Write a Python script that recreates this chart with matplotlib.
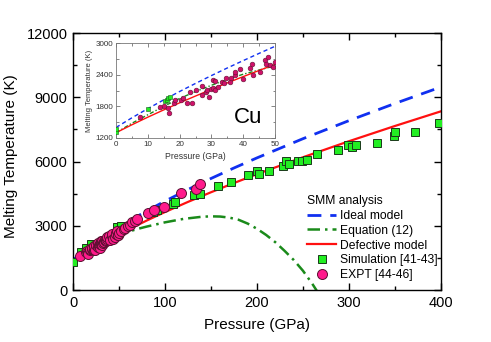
import matplotlib
matplotlib.use("Agg")
import matplotlib.pyplot as plt
from matplotlib.ticker import MultipleLocator

plt.rcParams['font.family'] = ['Liberation Sans', 'DejaVu Sans']

# ---- model curves ----
P_model = [0, 5, 10, 15, 20, 25, 30, 35, 40, 45, 50, 60, 80, 100, 125, 150, 175, 200, 250, 300, 350, 400]
T_ideal = [1400, 1583, 1757, 1923, 2082, 2235, 2384, 2528, 2668, 2805, 2939, 3198, 3688, 4149, 4692, 5207, 5698, 6169, 7065, 7908, 8710, 9478]
T_defect = [1300, 1451, 1595, 1733, 1867, 1996, 2122, 2245, 2364, 2481, 2596, 2818, 3241, 3641, 4114, 4564, 4995, 5410, 6199, 6947, 7659, 8343]

P_eq12 = [0, 5, 10, 15, 20, 25, 30, 35, 40, 45, 50, 60, 70, 80, 100, 120, 140, 150, 160, 170, 180, 190, 200, 210, 220, 230, 240, 250, 260, 266]
T_eq12 = [1300, 1480, 1640, 1800, 1950, 2080, 2200, 2310, 2410, 2490, 2570, 2720, 2850, 2960, 3160, 3320, 3420, 3440, 3430, 3380, 3280, 3100, 2860, 2570, 2230, 1830, 1400, 900, 300, -100]

# ---- simulation [41-43] ----
P_sim = [0, 9, 14, 20, 48, 52, 87, 91, 109, 111, 132, 138, 158, 172, 190, 200, 202, 213, 228, 232, 235, 245, 249, 254, 265, 288, 299, 303, 308, 330, 349, 350, 372, 398]
T_sim = [1310, 1760, 1980, 2150, 2960, 3000, 3650, 3720, 4030, 4110, 4430, 4490, 4840, 5030, 5390, 5550, 5440, 5580, 5780, 6015, 5890, 6010, 6020, 6050, 6370, 6560, 6760, 6690, 6760, 6880, 7190, 7370, 7390, 7810]
P_sim_inset = [0, 0, 10, 15.4, 16, 16.5, 17]
T_sim_inset = [1310, 1380, 1750, 1900, 1925, 1955, 1970]

# ---- experiment [44-46] ----
P_exp = [7.5, 13.8, 15.1, 16.4, 16.8, 18.2, 18.6, 20.4, 21, 22.4, 23.3, 23.8, 25, 27, 27, 28.3, 28.5,
         29.3, 29.8, 30.4, 30.6, 31.1, 31.1, 32.2, 33.2, 34, 34.6, 35.8, 36.1, 37.4, 37.4, 39, 40,
         42.1, 42.7, 43.2, 45.3, 46.9, 47.2, 47.9, 48.4, 49.3, 50,
         52, 55, 57, 60, 62, 64, 67, 70, 81, 88, 99, 117, 134, 138]
T_exp = [1592, 1793, 1806, 1762, 1668, 1857, 1920, 1920, 1952, 1857, 2077, 1857, 2110, 2015, 2185, 2066, 2110,
         1977, 2128, 2153, 2300, 2280, 2110, 2172, 2255, 2236, 2331, 2267, 2331, 2394, 2456, 2502, 2312,
         2520, 2602, 2394, 2456, 2678, 2610, 2740, 2583, 2551, 2646,
         2760, 2840, 2900, 2970, 3050, 3160, 3230, 3310, 3590, 3720, 3860, 4530, 4730, 4970]

c_blue = '#1030f0'
c_green = '#1a8a1a'
c_red = '#ff1010'
c_sq = '#22ee22'
c_circ = '#ff1a8c'

fig = plt.figure(figsize=(4.91, 3.42), dpi=100)
ax = fig.add_axes([0.1487, 0.152, 0.7493, 0.7515])

ax.plot(P_model, T_ideal, color=c_blue, lw=2.0, dashes=(5, 3.2), label='Ideal model', zorder=2)
ax.plot(P_eq12, T_eq12, color=c_green, lw=1.8, dashes=(5, 2, 1, 2), label='Equation (12)', zorder=2)
ax.plot(P_model, T_defect, color=c_red, lw=1.6, label='Defective model', zorder=2)
ax.plot(P_sim, T_sim, 's', ms=6.3, mfc=c_sq, mec='#1a3a1a', mew=0.7, ls='none',
        label='Simulation [41-43]', zorder=3)
ax.plot(P_exp, T_exp, 'o', ms=7.2, mfc=c_circ, mec='#5a1030', mew=0.7, ls='none',
        label='EXPT [44-46]', zorder=4)

ax.set_xlim(0, 400)
ax.set_ylim(0, 12000)
ax.xaxis.set_major_locator(MultipleLocator(100))
ax.xaxis.set_minor_locator(MultipleLocator(50))
ax.yaxis.set_major_locator(MultipleLocator(3000))
ax.yaxis.set_minor_locator(MultipleLocator(1500))
ax.tick_params(which='both', direction='in', top=True, right=True, width=1.0)
ax.tick_params(which='major', length=5, labelsize=10.5, pad=4)
ax.tick_params(which='minor', length=3)
for s in ax.spines.values():
    s.set_linewidth(1.0)
ax.set_xlabel('Pressure (GPa)', fontsize=11, labelpad=6)
ax.set_ylabel('Melting Temperature (K)', fontsize=11)
ax.yaxis.set_label_coords(-0.15, 0.52)

leg = ax.legend(loc='upper left', bbox_to_anchor=(0.633, 0.375), frameon=False,
                title='SMM analysis', alignment='left', fontsize=8.7, title_fontsize=8.7,
                handlelength=2.4, handletextpad=0.3, labelspacing=0.24, borderpad=0.1,
                numpoints=1, borderaxespad=0)

# ---- inset ----
ins = fig.add_axes([0.2363, 0.5965, 0.3238, 0.2775])
ins.plot(P_model, T_ideal, color=c_blue, lw=1.0, dashes=(3, 2.2))
ins.plot(P_eq12, T_eq12, color=c_green, lw=1.0, dashes=(3, 1.5, 1, 1.5))
ins.plot(P_model, T_defect, color=c_red, lw=1.0)
ins.plot(P_sim_inset, T_sim_inset, 's', ms=3, mfc=c_sq, mec='#1a5a1a', mew=0.4, ls='none', zorder=3)
ins.plot(P_exp, T_exp, 'o', ms=3.4, mfc='#d0106a', mec='#601030', mew=0.4, ls='none', zorder=4)
ins.set_xlim(0, 50)
ins.set_ylim(1200, 3000)
ins.xaxis.set_major_locator(MultipleLocator(10))
ins.xaxis.set_minor_locator(MultipleLocator(5))
ins.yaxis.set_major_locator(MultipleLocator(600))
ins.yaxis.set_minor_locator(MultipleLocator(300))
ins.tick_params(which='both', direction='in', top=True, right=True, width=0.5, colors='#555555',
                labelcolor='#333333')
ins.tick_params(which='major', length=3, labelsize=5.8, pad=2)
ins.tick_params(which='minor', length=1.8)
for s in ins.spines.values():
    s.set_linewidth(0.6)
    s.set_color('#777777')
ins.set_xlabel('Pressure (GPa)', fontsize=6.2, color='#333333', labelpad=3)
ins.set_ylabel('Melting Temperature (K)', fontsize=5.5, color='#333333', labelpad=2)
ins.text(0.83, 0.22, 'Cu', transform=ins.transAxes, fontsize=16, ha='center', va='center')

fig.savefig('out.png', dpi=100)
